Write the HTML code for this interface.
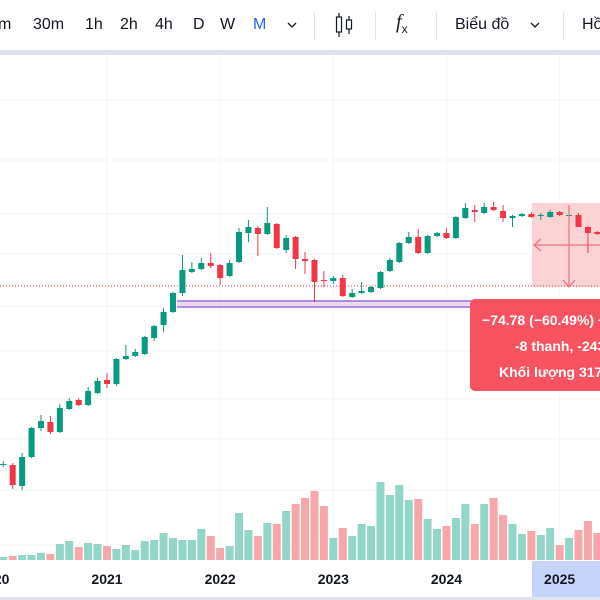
<!DOCTYPE html>
<html><head><meta charset="utf-8"><style>
html,body{margin:0;padding:0;background:#fff;width:600px;height:600px;overflow:hidden}
body{font-family:"Liberation Sans","Noto Sans CJK SC",sans-serif;position:relative}
.tb{position:absolute;top:0;left:0;width:600px;height:50px;background:#fff}
.ti{position:absolute;top:14px;font-size:16px;color:#131722;line-height:22px}
.sep{position:absolute;top:12px;width:1px;height:28px;background:#e0e3eb}
.band{position:absolute;top:50px;left:0;width:600px;height:5px;background:#e0e3eb}
</style></head><body>
<div class="tb">
<span class="ti" style="left:-2px">m</span>
<span class="ti" style="left:33px">30m</span>
<span class="ti" style="left:85px">1h</span>
<span class="ti" style="left:120px">2h</span>
<span class="ti" style="left:155px">4h</span>
<span class="ti" style="left:193px">D</span>
<span class="ti" style="left:220px">W</span>
<span class="ti" style="left:253px;color:#2962ff">M</span>
<svg style="position:absolute;left:287px;top:21px" width="10" height="8"><path d="M1 2 L5 6 L9 2" fill="none" stroke="#131722" stroke-width="1.3"/></svg>
<div class="sep" style="left:314px"></div>
<svg style="position:absolute;left:334px;top:12px" width="22" height="26"><g fill="none" stroke="#131722" stroke-width="1.2"><line x1="5" y1="1" x2="5" y2="25"/><rect x="2.5" y="5" width="5" height="15" fill="#fff"/><line x1="15" y1="4" x2="15" y2="22"/><rect x="12.5" y="8" width="5" height="9" fill="#fff"/></g></svg>
<div class="sep" style="left:375px"></div>
<span class="ti" style="left:396px;font-style:italic;font-family:'Liberation Serif',serif;font-size:20px;top:11px">f<sub style="font-size:12px;font-style:normal;font-family:'Liberation Sans',sans-serif">x</sub></span>
<div class="sep" style="left:436px"></div>
<span class="ti" style="left:455px">Biểu đồ</span>
<svg style="position:absolute;left:530px;top:21px" width="10" height="8"><path d="M1 2 L5 6 L9 2" fill="none" stroke="#131722" stroke-width="1.3"/></svg>
<div class="sep" style="left:563px"></div>
<span class="ti" style="left:582px">Hồ</span>
</div>
<div class="band"></div>
<svg id="chart" style="position:absolute;left:0;top:0" width="600" height="600"></svg>
<script>
const opens=[54.4,54.0,45.6,57.2,68.8,71.2,67.2,76.4,80.0,78.0,82.8,88.0,86.4,96.4,97.6,98.4,104.8,110.0,115.2,122.8,131.2,132.4,134.8,134.0,129.6,135.2,146.8,148.8,146.4,150.4,140.0,145.2,136.4,136.0,128.0,127.6,128.8,121.2,122.8,123.2,124.8,131.6,135.2,142.8,145.2,138.8,145.6,146.8,144.8,152.8,156.0,154.8,157.2,155.6,152.8,153.6,154.4,153.6,153.2,155.2,154.0,154.0,149.2,147.2];
const highs=[55.6,54.8,58.8,69.2,74.0,73.6,78.4,80.8,80.8,85.2,88.8,90.8,96.8,102.0,100.4,105.6,110.0,116.8,123.2,138.0,135.2,136.8,138.8,134.4,136.0,148.8,152.0,149.6,157.2,150.8,146.0,145.6,139.2,136.4,131.6,129.6,130.0,124.4,127.2,125.6,131.6,136.8,143.2,147.2,148.4,146.0,147.2,148.8,153.6,158.8,158.0,158.8,159.2,158.0,154.0,154.8,155.2,154.8,156.0,155.6,154.4,154.8,149.6,147.6];
const lows=[53.2,44.4,44.0,56.8,67.6,66.4,66.8,76.0,77.6,77.6,82.4,84.8,85.6,96.0,97.2,98.0,103.6,107.2,114.8,121.6,130.8,132.0,132.8,126.0,129.2,134.8,143.2,137.6,146.0,140.4,138.8,132.4,130.4,119.2,125.2,126.4,121.2,120.8,122.4,122.8,124.4,131.2,134.8,142.4,138.4,138.4,145.2,144.4,144.4,152.4,151.2,154.4,155.6,151.2,149.2,153.2,152.8,152.0,152.8,153.6,153.6,149.2,138.8,146.0];
const closes=[54.4,46.0,57.2,68.8,71.6,67.2,76.8,79.6,78.0,83.6,87.6,86.4,96.4,97.6,99.2,105.2,109.6,115.2,122.8,132.0,132.4,134.8,133.6,128.8,134.8,147.2,149.2,146.4,150.8,140.8,144.8,136.4,135.6,127.2,127.6,128.8,121.6,122.8,123.6,125.2,131.2,136.0,142.8,145.2,138.8,145.6,146.8,144.8,153.2,156.8,155.2,157.2,156.0,152.8,153.6,154.4,153.2,154.0,155.2,154.0,154.0,149.2,146.8,146.4];
const volumes=[3,4,5,5,7,6,16,19,13,17,16,14,11,15,10,19,20,27,22,20,20,31,24,12,14,47,30,24,37,36,49,56,62,69,54,22,32,24,36,34,78,65,75,60,61,41,31,34,42,56,36,56,62,45,36,26,29,25,32,15,22,30,39,27];
const yearLabels=["20","2021","2022","2023","2024","2025"];
const yearIdx=[0,12,24,36,48,60];
const NS="http://www.w3.org/2000/svg";
const svg=document.getElementById('chart');
function xS(i){return 107+(i+1-12)*9.43;}
function xYear(i){return 107+(i-12)*9.43;}
function yS(p){return 600-2.5*p;}
function vS(v){return 560-v;}
function mk(t,a){const e=document.createElementNS(NS,t);for(const k in a)e.setAttribute(k,a[k]);svg.appendChild(e);return e;}
[100,160,214,254,306,351,399,439,490,545].forEach(y=>{const g=mk('line',{x1:0,x2:600,y1:y,y2:y,stroke:'#f3f4f7','stroke-width':1});

});
yearIdx.forEach(i=>{const x=xYear(i);if(x<0)return;const g=mk('line',{x1:x,x2:x,y1:55,y2:560,stroke:'#f3f4f7','stroke-width':1});

});
const mb=mk('rect',{x:532,y:203,width:70,height:84,fill:'#fbd3d5'});


volumes.forEach((v,i)=>{const up=closes[i]>=opens[i];const r=mk('rect',{x:xS(i)-4,y:vS(v),width:8,height:560-vS(v),fill:up?'#92d6ca':'#f7a7aa'});

});
const dl=mk('line',{x1:0,x2:600,y1:286,y2:286,stroke:'#f23645','stroke-width':1,'stroke-dasharray':'1 2'});


const pz=mk('rect',{x:177,y:301,width:423,height:6,fill:'#ead9f7'});


[301,307].forEach(y=>{const l=mk('line',{x1:177,x2:600,y1:y,y2:y,stroke:'#9c6ad8','stroke-width':1.6});

});
opens.forEach((o,i)=>{const c=closes[i],up=c>=o,col=up?'#089981':'#f23645',x=xS(i);
const w=mk('line',{x1:x,x2:x,y1:yS(highs[i]),y2:yS(lows[i]),stroke:col,'stroke-width':1});


const t=Math.min(yS(o),yS(c)),h=Math.max(1,Math.abs(yS(o)-yS(c)));
const b=mk('rect',{x:x-3,y:t,width:6,height:h,fill:col});

});
const ma=mk('path',{d:'M569 205 V287 M563 280 L569 287 L575 280 M534 245 H600 M541 239 L534 245 L541 251',stroke:'#f0707a','stroke-width':1.2,fill:'none'});


const tb=mk('rect',{x:470,y:299,width:150,height:92,rx:5,fill:'#f7525f'});


[["−74.78 (−60.49%) −74780",482,325],["-8 thanh, -243 ngày",515,351],["Khối lượng 317.5M",499,377]].forEach(d=>{const t=mk('text',{x:d[1],y:d[2],fill:'#fff','font-size':14,'font-weight':'bold','font-family':'Liberation Sans, sans-serif'});t.textContent=d[0];

});
const ax=mk('rect',{x:0,y:561,width:600,height:36,fill:'#fff'});


const hl=mk('rect',{x:532,y:561,width:68,height:36,fill:'#c7d4fa'});


const bb=mk('rect',{x:0,y:597,width:600,height:3,fill:'#e0e3eb'});


yearLabels.forEach((s,k)=>{const x=Math.max(xYear(yearIdx[k]),-9);const t=mk('text',{x:x,y:584,'text-anchor':k==0?'start':'middle',fill:'#131722','font-size':14,'font-weight':'bold','font-family':'Liberation Sans, sans-serif'});t.textContent=s;

});
</script>
</body></html>
